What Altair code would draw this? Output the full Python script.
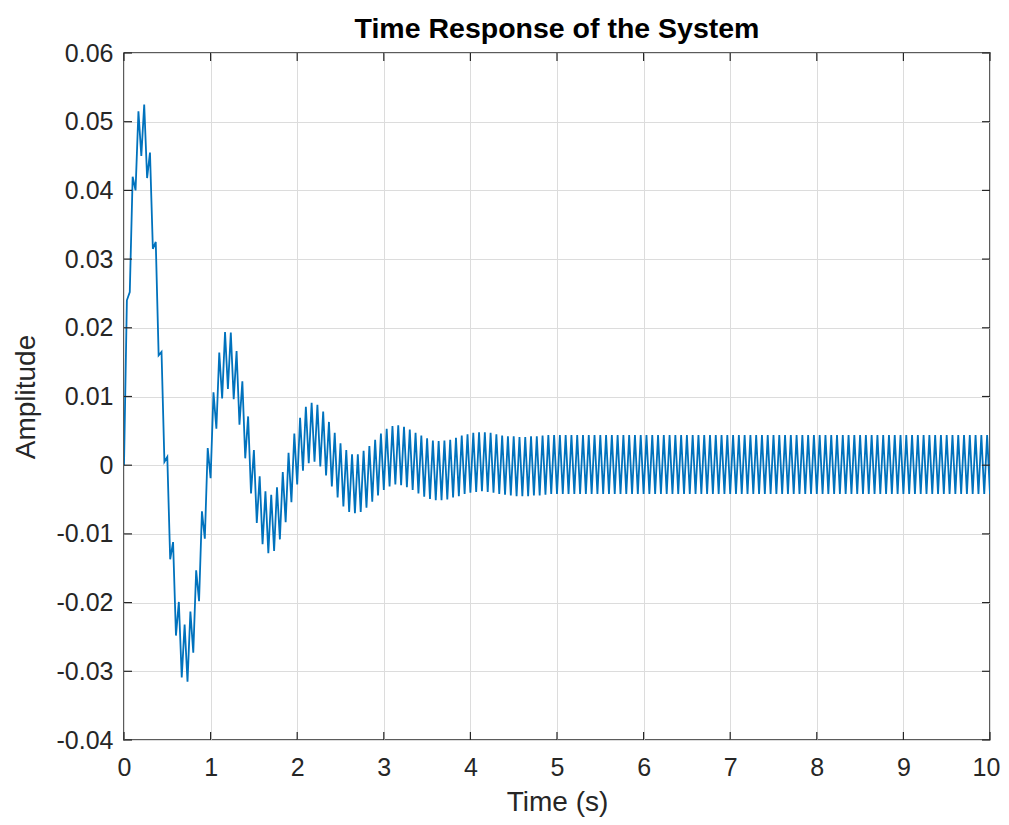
import altair as alt
import pandas as pd

# Sample times (s) at the extremes of the fast ripple
TIME_S = [
    0.0, 0.0333, 0.0667, 0.1, 0.1333, 0.1667, 0.2, 0.2333, 0.2667, 0.3, 0.3333, 0.3667, 0.4, 0.4333, 0.4667,
    0.5, 0.5333, 0.5667, 0.6, 0.6333, 0.6667, 0.7, 0.7333, 0.7667, 0.8, 0.8333, 0.8667, 0.9, 0.9333, 0.9667,
    1.0, 1.0333, 1.0667, 1.1, 1.1333, 1.1667, 1.2, 1.2333, 1.2667, 1.3, 1.3333, 1.3667, 1.4, 1.4333, 1.4667,
    1.5, 1.5333, 1.5667, 1.6, 1.6333, 1.6667, 1.7, 1.7333, 1.7667, 1.8, 1.8333, 1.8667, 1.9, 1.9333, 1.9667,
    2.0, 2.0333, 2.0667, 2.1, 2.1333, 2.1667, 2.2, 2.2333, 2.2667, 2.3, 2.3333, 2.3667, 2.4, 2.4333, 2.4667,
    2.5, 2.5333, 2.5667, 2.6, 2.6333, 2.6667, 2.7, 2.7333, 2.7667, 2.8, 2.8333, 2.8667, 2.9, 2.9333, 2.9667,
    3.0, 3.0333, 3.0667, 3.1, 3.1333, 3.1667, 3.2, 3.2333, 3.2667, 3.3, 3.3333, 3.3667, 3.4, 3.4333, 3.4667,
    3.5, 3.5333, 3.5667, 3.6, 3.6333, 3.6667, 3.7, 3.7333, 3.7667, 3.8, 3.8333, 3.8667, 3.9, 3.9333, 3.9667,
    4.0, 4.0333, 4.0667, 4.1, 4.1333, 4.1667, 4.2, 4.2333, 4.2667, 4.3, 4.3333, 4.3667, 4.4, 4.4333, 4.4667,
    4.5, 4.5333, 4.5667, 4.6, 4.6333, 4.6667, 4.7, 4.7333, 4.7667, 4.8, 4.8333, 4.8667, 4.9, 4.9333, 4.9667,
    5.0, 5.0333, 5.0667, 5.1, 5.1333, 5.1667, 5.2, 5.2333, 5.2667, 5.3, 5.3333, 5.3667, 5.4, 5.4333, 5.4667,
    5.5, 5.5333, 5.5667, 5.6, 5.6333, 5.6667, 5.7, 5.7333, 5.7667, 5.8, 5.8333, 5.8667, 5.9, 5.9333, 5.9667,
    6.0, 6.0333, 6.0667, 6.1, 6.1333, 6.1667, 6.2, 6.2333, 6.2667, 6.3, 6.3333, 6.3667, 6.4, 6.4333, 6.4667,
    6.5, 6.5333, 6.5667, 6.6, 6.6333, 6.6667, 6.7, 6.7333, 6.7667, 6.8, 6.8333, 6.8667, 6.9, 6.9333, 6.9667,
    7.0, 7.0333, 7.0667, 7.1, 7.1333, 7.1667, 7.2, 7.2333, 7.2667, 7.3, 7.3333, 7.3667, 7.4, 7.4333, 7.4667,
    7.5, 7.5333, 7.5667, 7.6, 7.6333, 7.6667, 7.7, 7.7333, 7.7667, 7.8, 7.8333, 7.8667, 7.9, 7.9333, 7.9667,
    8.0, 8.0333, 8.0667, 8.1, 8.1333, 8.1667, 8.2, 8.2333, 8.2667, 8.3, 8.3333, 8.3667, 8.4, 8.4333, 8.4667,
    8.5, 8.5333, 8.5667, 8.6, 8.6333, 8.6667, 8.7, 8.7333, 8.7667, 8.8, 8.8333, 8.8667, 8.9, 8.9333, 8.9667,
    9.0, 9.0333, 9.0667, 9.1, 9.1333, 9.1667, 9.2, 9.2333, 9.2667, 9.3, 9.3333, 9.3667, 9.4, 9.4333, 9.4667,
    9.5, 9.5333, 9.5667, 9.6, 9.6333, 9.6667, 9.7, 9.7333, 9.7667, 9.8, 9.8333, 9.8667, 9.9, 9.9333, 9.9667,
    10.0,
]

# Amplitude at those times, in units of 1e-4
AMPLITUDE_E4 = [
    0, 240, 252, 420, 400, 515, 450, 525, 418, 455, 315, 325, 160, 165, 5,
    12, -137, -112, -248, -199, -309, -232, -315, -213, -273, -153, -198, -67, -107, 25,
    -19, 106, 53, 164, 97, 194, 111, 193, 96, 166, 59, 122, 10, 71, -41,
    22, -84, -16, -115, -38, -128, -43, -125, -32, -108, -10, -83, 18, -54, 46,
    -28, 69, -8, 85, 3, 91, 5, 88, -2, 78, -15, 63, -31, 47, -47,
    32, -60, 22, -68, 16, -70, 16, -68, 21, -62, 28, -53, 37, -44, 46,
    -36, 53, -31, 57, -28, 58, -29, 56, -32, 52, -36, 47, -41, 43, -46,
    39, -49, 36, -51, 35, -51, 36, -50, 37, -47, 40, -45, 43, -42, 45,
    -40, 47, -39, 48, -38, 48, -39, 47, -40, 45, -42, 43, -43, 42, -44,
    42, -45, 41, -45, 41, -45, 42, -44, 42, -44, 43, -43, 44, -42, 44,
    -42, 44, -42, 44, -42, 44, -42, 44, -42, 44, -42, 44, -42, 44, -42,
    44, -42, 44, -42, 44, -42, 44, -42, 44, -42, 44, -42, 44, -42, 44,
    -42, 44, -42, 44, -42, 44, -42, 44, -42, 44, -42, 44, -42, 44, -42,
    44, -42, 44, -42, 44, -42, 44, -42, 44, -42, 44, -42, 44, -42, 44,
    -42, 44, -42, 44, -42, 44, -42, 44, -42, 44, -42, 44, -42, 44, -42,
    44, -42, 44, -42, 44, -42, 44, -42, 44, -42, 44, -42, 44, -42, 44,
    -42, 44, -42, 44, -42, 44, -42, 44, -42, 44, -42, 44, -42, 44, -42,
    44, -42, 44, -42, 44, -42, 44, -42, 44, -42, 44, -42, 44, -42, 44,
    -42, 44, -42, 44, -42, 44, -42, 44, -42, 44, -42, 44, -42, 44, -42,
    44, -42, 44, -42, 44, -42, 44, -42, 44, -42, 44, -42, 44, -42, 44,
    -42,
]

X_TICKS = [0, 1, 2, 3, 4, 5, 6, 7, 8, 9, 10]
Y_TICKS = [-0.04, -0.03, -0.02, -0.01, 0.0, 0.01, 0.02, 0.03, 0.04, 0.05, 0.06]

TITLE = "Time Response of the System"
X_TITLE = "Time (s)"
Y_TITLE = "Amplitude"

df = pd.DataFrame({"t": TIME_S, "a": [v / 10000 for v in AMPLITUDE_E4]})
xt = pd.DataFrame({"t": X_TICKS})
yt = pd.DataFrame({"a": Y_TICKS})

W, H = 866, 687
TICK = 8
FONT = "Liberation Sans"
INK = "#262626"

xs = alt.Scale(domain=[0, 10], nice=False, zero=False)
ys = alt.Scale(domain=[-0.04, 0.06], nice=False, zero=False)

x_axis = alt.Axis(
    values=X_TICKS, title=X_TITLE, grid=True, ticks=False, domain=False,
    labelFlush=False, labelOverlap=False, labelPadding=15, titlePadding=8,
    labelOffset={"condition": {"test": "datum.value == 10", "value": -4}, "value": 0},
    labelFontSize=25, titleFontSize=28, titleFontWeight="normal",
    labelFont=FONT, titleFont=FONT, labelColor=INK, titleColor=INK,
    gridColor="#dcdcdc", gridWidth=1,
)
y_axis = alt.Axis(
    values=Y_TICKS, title=Y_TITLE, grid=True, ticks=False, domain=False,
    labelFlush=False, labelOverlap=False, labelPadding=11, titlePadding=16,
    labelFontSize=25, titleFontSize=28, titleFontWeight="normal",
    labelFont=FONT, titleFont=FONT, labelColor=INK, titleColor=INK,
    gridColor="#dcdcdc", gridWidth=1,
    labelExpr="abs(datum.value) < 1e-9 ? '0' : replace(format(datum.value, '.2f'), '\u2212', '-')",
)

X = alt.X("t:Q", scale=xs, axis=x_axis)
Y = alt.Y("a:Q", scale=ys, axis=y_axis)

line = alt.Chart(df).mark_line(color="#0072BD", strokeWidth=1.8, clip=True).encode(x=X, y=Y)

tick_style = dict(color=INK, strokeWidth=1.2)
bottom_ticks = alt.Chart(xt).mark_rule(**tick_style).encode(
    x=X, y=alt.value(H), y2=alt.value(H - TICK))
top_ticks = alt.Chart(xt).mark_rule(**tick_style).encode(
    x=X, y=alt.value(0), y2=alt.value(TICK))
left_ticks = alt.Chart(yt).mark_rule(**tick_style).encode(
    y=Y, x=alt.value(0), x2=alt.value(TICK))
right_ticks = alt.Chart(yt).mark_rule(**tick_style).encode(
    y=Y, x=alt.value(W), x2=alt.value(W - TICK))

chart = alt.layer(line, bottom_ticks, top_ticks, left_ticks, right_ticks).properties(
    width=W, height=H,
    title=alt.TitleParams(TITLE, fontSize=28.5, fontWeight="bold", font=FONT,
                          color="#000000", anchor="middle", frame="group", offset=14, dy=16),
    autosize=alt.AutoSizeParams(type="none"),
    padding={"left": 116, "top": 45, "right": 11, "bottom": 77},
).configure_view(
    stroke=INK, strokeWidth=1.5,
)

chart.save("out.html", embed_options={"renderer": "svg", "actions": False})
